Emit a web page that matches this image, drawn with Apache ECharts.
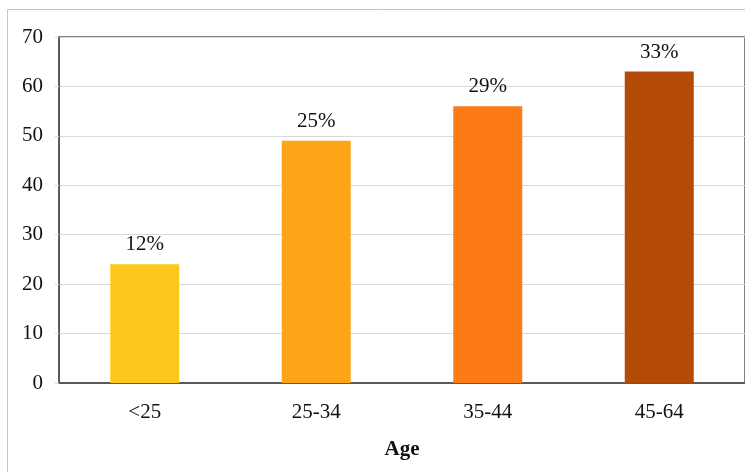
<!DOCTYPE html>
<html>
<head>
<meta charset="utf-8">
<style>
  html, body { margin: 0; padding: 0; background: #ffffff; }
  #chart { width: 745px; height: 472px; }
</style>
<script src="https://cdn.jsdelivr.net/npm/echarts@6/dist/echarts.min.js"></script>
</head>
<body>
<div id="chart"></div>
<script>
// Age groups and their counts
const categories = ['<25', '25-34', '35-44', '45-64'];
const counts = [24, 49, 56, 63];
const shareLabels = ['12%', '25%', '29%', '33%'];
const barColors = ['#fdc81e', '#fda417', '#fd7a18', '#b44a08'];
const yTicks = { min: 0, max: 70, interval: 10 };

const serif = '"Liberation Serif", "Times New Roman", serif';

const chart = echarts.init(document.getElementById('chart'), null, { renderer: 'canvas' });

chart.setOption({
  backgroundColor: '#ffffff',
  animation: false,
  graphic: [{
    type: 'rect',
    shape: { x: 7.5, y: 9.5, width: 800, height: 500 },
    style: { fill: 'none', stroke: '#c4c4c4', lineWidth: 1 },
    silent: true,
    z: -10
  }],
  grid: {
    left: 59, top: 37, width: 688, height: 346,
    show: true, borderColor: '#5a5a5a', borderWidth: 1.5, backgroundColor: 'transparent'
  },
  xAxis: {
    type: 'category',
    data: categories,
    name: 'Age',
    nameLocation: 'middle',
    nameGap: 56,
    nameTextStyle: { fontFamily: serif, fontSize: 21, fontWeight: 'bold', color: '#111' },
    axisLine: { show: true, lineStyle: { color: '#5a5a5a', width: 2 } },
    axisTick: { show: false },
    axisLabel: { fontFamily: serif, fontSize: 21, color: '#111', margin: 19 }
  },
  yAxis: {
    type: 'value',
    min: yTicks.min, max: yTicks.max, interval: yTicks.interval,
    axisLine: { show: true, lineStyle: { color: '#5a5a5a', width: 2 } },
    axisTick: { show: true, length: 4, lineStyle: { color: '#d6d6d6' } },
    axisLabel: { fontFamily: serif, fontSize: 21, color: '#111', margin: 16 },
    splitLine: { show: true, lineStyle: { color: '#d9d9d9', width: 1 } }
  },
  series: [{
    type: 'bar',
    barWidth: 69,
    data: counts.map((v, i) => ({ value: v, itemStyle: { color: barColors[i] } })),
    label: {
      show: true,
      position: 'top',
      distance: 9,
      fontFamily: serif,
      fontSize: 21,
      color: '#111',
      formatter: p => shareLabels[p.dataIndex]
    }
  }]
});
</script>
</body>
</html>
